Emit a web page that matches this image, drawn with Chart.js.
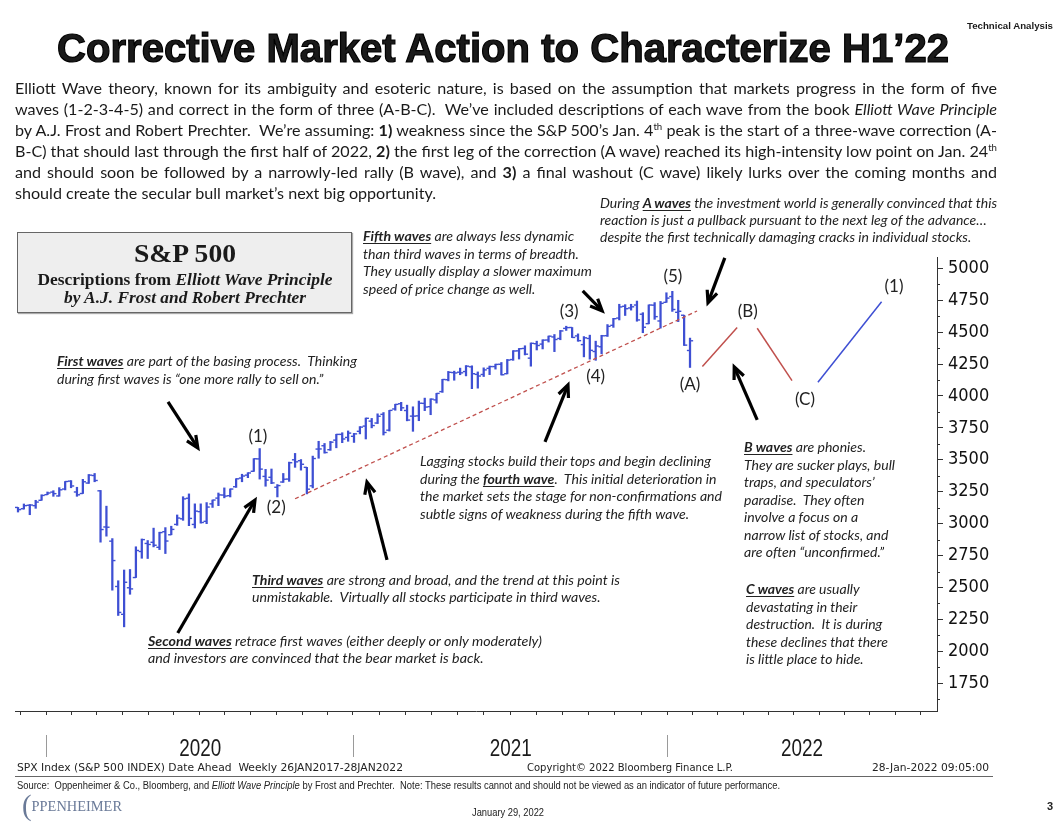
<!DOCTYPE html>
<html lang="en">
<head>
<meta charset="UTF-8">
<title>Corrective Market Action to Characterize H1’22</title>
<script src="https://cdn.jsdelivr.net/npm/chart.js@4.4.1/dist/chart.umd.min.js"></script>
<style>
  html, body { margin: 0; padding: 0; background: #fff; }
  body { width: 1059px; height: 840px; position: relative; overflow: hidden; color: #1a1a1a; font-family: Lato, "Open Sans", sans-serif; }
  #chart { position: absolute; left: 0; top: 0; }
  .abs { position: absolute; white-space: nowrap; transform-origin: 0 0; }
  .ln { white-space: nowrap; width: max-content; }
  .note { font: italic 13.5px/17.5px Lato, sans-serif; color: #222; }
  .note u { text-underline-offset: 2px; }
  .intro { font: 16px/20.9px Lato, sans-serif; color: #1a1a1a; }
  .intro sup { font-size: 0.6em; line-height: 0; vertical-align: 0.65em; }
  .foot { font: 11px/13px "DejaVu Sans Condensed", "DejaVu Sans", sans-serif; color: #222; }
  #spbox { position: absolute; left: 17px; top: 232px; width: 333px; height: 79px; background: #eeeeee; border: 1px solid #666; box-shadow: 1px 1px 1px #aaa; }
  #spbox .abs { left: 50%; transform-origin: 50% 0; font-family: "Liberation Serif", "DejaVu Serif", serif; font-weight: bold; color: #1a1a1a; }
</style>
</head>
<body>
<canvas id="chart" width="1059" height="840"></canvas>

<div class="abs" data-w="86" style="left:967px; top:22px; font: bold 9px/9px 'Liberation Sans', Arial, sans-serif;">Technical Analysis</div>
<div class="abs" data-w="892" style="left:57px; top:28px; font: bold 40px/40px 'Liberation Sans', Arial, sans-serif; -webkit-text-stroke: 1.2px #000;">Corrective Market Action to Characterize H1’22</div>

<div class="abs intro" data-w="982" data-justify="1" style="left:15px; top:78px;">
  <div class="ln">Elliott Wave theory, known for its ambiguity and esoteric nature, is based on the assumption that markets progress in the form of five</div>
  <div class="ln">waves (1-2-3-4-5) and correct in the form of three (A-B-C).&nbsp; We’ve included descriptions of each wave from the book <i>Elliott Wave Principle</i></div>
  <div class="ln">by A.J. Frost and Robert Prechter.&nbsp; We’re assuming: <b>1)</b> weakness since the S&amp;P 500’s Jan. 4<sup>th</sup> peak is the start of a three-wave correction (A-</div>
  <div class="ln">B-C) that should last through the first half of 2022, <b>2)</b> the first leg of the correction (A wave) reached its high-intensity low point on Jan. 24<sup>th</sup></div>
  <div class="ln">and should soon be followed by a narrowly-led rally (B wave), and <b>3)</b> a final washout (C wave) likely lurks over the coming months and</div>
  <div class="ln">should create the secular bull market’s next big opportunity.</div>
</div>

<div id="spbox">
  <div class="abs" data-w="102" data-center="1" style="top:8px; font-size:26px; line-height:26px;">S&amp;P 500</div>
  <div class="abs" data-w="295" data-center="1" style="top:39px; font-size:16px; line-height:16px;">Descriptions from <i>Elliott Wave Principle</i></div>
  <div class="abs" data-w="242" data-center="1" style="top:57px; font-size:16px; line-height:16px; font-style:italic;">by A.J. Frost and Robert Prechter</div>
</div>

<div class="abs note" data-w="397" style="left:600px; top:195px; line-height:16.8px;">
  <div class="ln">During <b><u>A waves</u></b> the investment world is generally convinced that this</div>
  <div class="ln">reaction is just a pullback pursuant to the next leg of the advance…</div>
  <div class="ln">despite the first technically damaging cracks in individual stocks.</div>
</div>
<div class="abs note" data-w="229" style="left:363px; top:228px;">
  <div class="ln"><b><u>Fifth waves</u></b> are always less dynamic</div>
  <div class="ln">than third waves in terms of breadth.</div>
  <div class="ln">They usually display a slower maximum</div>
  <div class="ln">speed of price change as well.</div>
</div>
<div class="abs note" data-w="300" style="left:57px; top:353px;">
  <div class="ln"><b><u>First waves</u></b> are part of the basing process.&nbsp; Thinking</div>
  <div class="ln">during first waves is “one more rally to sell on.”</div>
</div>
<div class="abs note" data-w="302" style="left:420px; top:453px;">
  <div class="ln">Lagging stocks build their tops and begin declining</div>
  <div class="ln">during the <b><u>fourth wave</u></b>.&nbsp; This initial deterioration in</div>
  <div class="ln">the market sets the stage for non-confirmations and</div>
  <div class="ln">subtle signs of weakness during the fifth wave.</div>
</div>
<div class="abs note" data-w="151" style="left:744px; top:439px;">
  <div class="ln"><b><u>B waves</u></b> are phonies.</div>
  <div class="ln">They are sucker plays, bull</div>
  <div class="ln">traps, and speculators’</div>
  <div class="ln">paradise.&nbsp; They often</div>
  <div class="ln">involve a focus on a</div>
  <div class="ln">narrow list of stocks, and</div>
  <div class="ln">are often “unconfirmed.”</div>
</div>
<div class="abs note" data-w="142" style="left:746px; top:581px;">
  <div class="ln"><b><u>C waves</u></b> are usually</div>
  <div class="ln">devastating in their</div>
  <div class="ln">destruction.&nbsp; It is during</div>
  <div class="ln">these declines that there</div>
  <div class="ln">is little place to hide.</div>
</div>
<div class="abs note" data-w="368" style="left:252px; top:572px; line-height:16.8px;">
  <div class="ln"><b><u>Third waves</u></b> are strong and broad, and the trend at this point is</div>
  <div class="ln">unmistakable.&nbsp; Virtually all stocks participate in third waves.</div>
</div>
<div class="abs note" data-w="394" style="left:148px; top:633px; line-height:16.8px;">
  <div class="ln"><b><u>Second waves</u></b> retrace first waves (either deeply or only moderately)</div>
  <div class="ln">and investors are convinced that the bear market is back.</div>
</div>

<div class="abs foot" data-w="386" style="left:17px; top:761px;">SPX Index (S&amp;P 500 INDEX) Date Ahead&nbsp; Weekly 26JAN2017-28JAN2022</div>
<div class="abs foot" data-w="206" style="left:527px; top:761px;">Copyright© 2022 Bloomberg Finance L.P.</div>
<div class="abs foot" data-w="117" style="left:872px; top:761px;">28-Jan-2022 09:05:00</div>
<div class="abs" style="left:15px; top:776px; width:978px; border-top:1.5px solid #666;"></div>
<div class="abs" data-w="763" style="left:17px; top:780px; font: 10px/12px 'Liberation Sans Narrow', 'Liberation Sans', Arial, sans-serif; color:#222;">Source:&nbsp; Oppenheimer &amp; Co., Bloomberg, and <i>Elliott Wave Principle</i> by Frost and Prechter.&nbsp; Note: These results cannot and should not be viewed as an indicator of future performance.</div>
<div class="abs" data-w="100" style="left:22px; top:793px; font: 15px/24px 'Liberation Serif', serif; color:#6a7a98;"><span style="font-size:30px; font-weight:300; vertical-align:-4px;">(</span>PPENHEIMER</div>
<div class="abs" data-w="72" style="left:472px; top:807px; font: 10px/12px 'Liberation Sans Narrow', 'Liberation Sans', Arial, sans-serif; color:#222;">January 29, 2022</div>
<div class="abs" style="left:1047px; top:800px; font: bold 11px/12px 'Liberation Sans', Arial, sans-serif; color:#222;">3</div>

<script>
// Weekly S&P 500 bars, week ending 22 Nov 2019 (index 0) to 28 Jan 2022 (index 114)
var opens = [3127,3117,3144,3141,3183,3227,
  3247,3217,3271,3333,3248, 3236,3318,3377,3257, 2974,2863,2508,2290, 2498,2578,2782,2845,
  2854,2815,2937,2913,2994, 3038,3199,2994,3094, 3018,3155,3200,3224,3219, 3289,3357,3380,3410,
  3507,3370,3363,3285, 3326,3349,3500,3493,3441, 3296,3584,3610,3579, 3654,3699,3675,3684,3723,
  3764,3803,3788,3856, 3732,3898,3939,3886, 3842,3844,3942,3916, 3969,4034,4127,4183,4186,
  4191,4228,4169,4168, 4216,4230,4248,4174, 4285,4353,4372,4296,4409, 4406,4438,4462,4450,
  4529,4536,4470,4402, 4450,4348,4385,4472,4553, 4610,4702,4689,4712, 4640,4566,4711,4587,4733,
  4778,4655,4632,4356];
var highs = [3127,3154,3150,3183,3226,3248,
  3258,3282,3330,3337,3285, 3347,3385,3393,3260, 3137,2883,2553,2637, 2641,2819,2880,2868,
  2965,2933,2969,2980,3068, 3211,3233,3155,3155, 3165,3185,3240,3280,3272, 3352,3387,3399,3509,
  3588,3425,3428,3306, 3393,3482,3550,3502,3441, 3529,3645,3628,3644, 3700,3712,3726,3707,3760,
  3827,3824,3860,3870, 3887,3935,3950,3928, 3915,3960,3983,3978, 4020,4130,4192,4194,4218,
  4238,4236,4188,4220, 4234,4249,4262,4286, 4355,4372,4393,4415,4429, 4440,4469,4481,4513,
  4546,4536,4486,4465, 4476,4429,4475,4559,4608, 4718,4715,4718,4743, 4652,4713,4731,4740,4808,
  4819,4749,4632,4453];
var lows = [3091,3114,3070,3120,3183,3227,
  3214,3215,3264,3281,3214, 3236,3315,3328,2855, 2902,2479,2281,2192, 2447,2578,2729,2727,
  2818,2797,2766,2913,2987, 3026,2984,2966,3004, 3000,3127,3141,3202,3209, 3284,3328,3360,3409,
  3349,3293,3313,3209, 3323,3331,3441,3419,3233, 3280,3512,3552,3574, 3594,3634,3645,3636,3703,
  3663,3750,3784,3694, 3725,3888,3885,3805, 3723,3806,3885,3853, 3944,4028,4118,4123,4166,
  4157,4057,4061,4152, 4167,4210,4164,4173, 4279,4289,4321,4233,4360, 4368,4422,4347,4440,
  4513,4457,4428,4306, 4288,4279,4330,4466,4537, 4595,4630,4672,4585, 4495,4565,4600,4531,4733,
  4662,4582,4395,4223];
var closes = [3110,3141,3146,3169,3221,3240,
  3235,3265,3330,3295,3226, 3328,3380,3338,2954, 2972,2711,2305,2541, 2489,2790,2875,2837,
  2831,2930,2864,2955,3044, 3194,3041,3098,3009, 3130,3185,3225,3216,3271, 3351,3373,3397,3508,
  3427,3341,3319,3298, 3348,3477,3484,3465,3270, 3510,3585,3557,3638, 3699,3663,3709,3703,3756,
  3825,3768,3841,3714, 3887,3934,3907,3811, 3842,3943,3913,3975, 4020,4129,4185,4180,4181,
  4233,4174,4156,4204, 4230,4247,4166,4281, 4352,4370,4327,4412,4395, 4437,4468,4442,4509,
  4535,4458,4433,4455, 4357,4391,4471,4545,4605, 4697,4683,4698,4595, 4538,4712,4621,4725,4766,
  4677,4663,4398,4432];

// rising support line from the (2) low through the (4) low
var trendX = [47, 115.2];
var trendY = [3195, 4665];

// projected path: A -> B, B -> C (red) and C -> new (1) (blue)
var legABx = [116.1, 122.0], legABy = [4230, 4535];
var legBCx = [125.4, 131.3], legBCy = [4530, 4120];
var leg1x  = [135.7, 146.5], leg1y  = [4107, 4738];

// wave counts
var waveLabels = ['(1)', '(2)', '(3)', '(4)', '(5)', '(A)', '(B)', '(C)', '(1)'];
var waveX = [40.7, 43.8, 93.5, 98.0, 111.1, 114.0, 123.8, 133.5, 148.6];
var waveY = [3679, 3123, 4658, 4149, 4932, 4086, 4658, 3969, 4854];

// annotation arrows [tail week, tail level, head week, head level]
var arrows = [
  [25.45, 3953, 30.5, 3593],
  [27.1, 2144, 40.2, 3185],
  [62.6, 2716, 59.2, 3326],
  [95.8, 4822, 99.1, 4666],
  [89.4, 3640, 93.3, 4086],
  [119.9, 5081, 117.05, 4730],
  [125.4, 3812, 121.5, 4227]
];

// axes
var yTicks = [1625, 1750, 1875, 2000, 2125, 2250, 2375, 2500, 2625, 2750, 2875, 3000, 3125, 3250,
  3375, 3500, 3625, 3750, 3875, 4000, 4125, 4250, 4375, 4500, 4625, 4750, 4875, 5000];
var monthTicks = [0.4, 4.75, 9.1, 13.4, 17.8, 22.1, 26.4, 30.8, 35.1, 39.5, 43.8, 48.2, 52.5,
  56.8, 61.3, 65.7, 70.1, 74.6, 79.0, 83.5, 87.9, 92.3, 96.8, 101.2, 105.7,
  110.1, 114.4, 118.7, 123.0, 127.3, 131.6, 135.9, 140.2, 144.5, 148.8, 153.1];
var years = ['2020', '2021', '2022'];
var yearBreaks = [4.75, 56.8, 110.1];
var yearCenters = [30.9, 83.6, 133.0];

var BLUE = '#3e4fd3';
var RED = '#c0504d';

function isMajor(v) { return v % 250 === 0; }

function fitText() {
  document.querySelectorAll('[data-w]').forEach(function (el) {
    var lines = el.querySelectorAll('.ln');
    var items = lines.length ? Array.from(lines) : [el];
    var nat = Math.max.apply(null, items.map(function (e) { return e.getBoundingClientRect().width; }));
    var w = +el.dataset.w;
    var s = w / nat;
    if (el.dataset.center) {
      el.style.transform = 'translateX(-50%) scaleX(' + s + ')';
    } else {
      el.style.transform = 'scaleX(' + s + ')';
    }
    if (el.dataset.justify) {
      items.slice(0, -1).forEach(function (e) {
        e.style.width = (w / s) + 'px';
        e.style.whiteSpace = 'normal';
        e.style.textAlign = 'justify';
        e.style.textAlignLast = 'justify';
      });
    }
  });
}
fitText();

function drawArrow(ctx, x0, y0, x1, y1) {
  var a = Math.atan2(y1 - y0, x1 - x0), L = 13, w = 0.42;
  ctx.beginPath();
  ctx.moveTo(x0, y0);
  ctx.lineTo(x1 - 2 * Math.cos(a), y1 - 2 * Math.sin(a));
  ctx.stroke();
  ctx.beginPath();
  ctx.moveTo(x1 - L * Math.cos(a - w), y1 - L * Math.sin(a - w));
  ctx.lineTo(x1, y1);
  ctx.lineTo(x1 - L * Math.cos(a + w), y1 - L * Math.sin(a + w));
  ctx.stroke();
}

var overlay = {
  id: 'overlay',
  afterDraw: function (chart) {
    var ctx = chart.ctx, xs = chart.scales.x, ys = chart.scales.y;
    var area = chart.chartArea, bottom = area.bottom;
    ctx.save();
    // short minor ticks on the price axis
    ctx.strokeStyle = '#333';
    ctx.lineWidth = 1;
    yTicks.forEach(function (v) {
      if (isMajor(v)) return;
      var py = Math.round(ys.getPixelForValue(v)) + 0.5;
      ctx.beginPath();
      ctx.moveTo(area.right, py);
      ctx.lineTo(area.right + 3, py);
      ctx.stroke();
    });
    // arrows
    ctx.strokeStyle = '#000';
    ctx.lineWidth = 3.2;
    ctx.lineJoin = 'miter';
    arrows.forEach(function (a) {
      drawArrow(ctx, xs.getPixelForValue(a[0]), ys.getPixelForValue(a[1]),
        xs.getPixelForValue(a[2]), ys.getPixelForValue(a[3]));
    });
    // wave labels
    ctx.fillStyle = '#222';
    ctx.font = '17px Lato, sans-serif';
    ctx.textAlign = 'center';
    ctx.textBaseline = 'middle';
    waveLabels.forEach(function (t, i) {
      ctx.fillText(t, xs.getPixelForValue(waveX[i]), ys.getPixelForValue(waveY[i]));
    });
    // year separators and labels
    ctx.strokeStyle = '#9a9a9a';
    ctx.lineWidth = 1;
    yearBreaks.forEach(function (v) {
      var px = Math.round(xs.getPixelForValue(v)) + 0.5;
      ctx.beginPath();
      ctx.moveTo(px, bottom + 24);
      ctx.lineTo(px, bottom + 46);
      ctx.stroke();
    });
    ctx.fillStyle = '#1a1a1a';
    ctx.font = '23px "Liberation Sans", Arial, sans-serif';
    ctx.textBaseline = 'alphabetic';
    years.forEach(function (t, i) {
      ctx.save();
      ctx.translate(xs.getPixelForValue(yearCenters[i]), bottom + 45);
      ctx.scale(0.82, 1);
      ctx.fillText(t, 0, 0);
      ctx.restore();
    });
    ctx.restore();
  }
};

var ctx = document.getElementById('chart').getContext('2d');
var chart = new Chart(ctx, {
  type: 'bar',
  data: {
    datasets: [
      {
        type: 'bar',
        data: highs.map(function (h, i) { return { x: i, y: [lows[i], h] }; }),
        backgroundColor: BLUE,
        borderWidth: 0,
        barThickness: 1.6,
        grouped: false,
        order: 3
      },
      {
        type: 'scatter',
        data: opens.map(function (o, i) { return { x: i - 0.26, y: o }; }),
        showLine: false,
        pointStyle: 'line',
        pointRadius: 1.6,
        pointBorderColor: BLUE,
        pointBorderWidth: 1.4,
        order: 2
      },
      {
        type: 'scatter',
        data: closes.map(function (c, i) { return { x: i + 0.26, y: c }; }),
        showLine: false,
        pointStyle: 'line',
        pointRadius: 1.6,
        pointBorderColor: BLUE,
        pointBorderWidth: 1.4,
        order: 2
      },
      {
        type: 'line',
        data: trendX.map(function (x, i) { return { x: x, y: trendY[i] }; }),
        borderColor: RED,
        borderWidth: 1.3,
        borderDash: [4, 3],
        pointRadius: 0,
        order: 1
      },
      {
        type: 'line',
        data: legABx.map(function (x, i) { return { x: x, y: legABy[i] }; }),
        borderColor: RED, borderWidth: 1.5, pointRadius: 0, order: 1
      },
      {
        type: 'line',
        data: legBCx.map(function (x, i) { return { x: x, y: legBCy[i] }; }),
        borderColor: RED, borderWidth: 1.5, pointRadius: 0, order: 1
      },
      {
        type: 'line',
        data: leg1x.map(function (x, i) { return { x: x, y: leg1y[i] }; }),
        borderColor: BLUE, borderWidth: 1.5, pointRadius: 0, order: 1
      }
    ]
  },
  options: {
    responsive: false,
    animation: false,
    events: [],
    layout: { padding: { left: 15, top: 257, right: 0, bottom: 0 } },
    plugins: { legend: { display: false }, tooltip: { enabled: false } },
    scales: {
      x: {
        type: 'linear',
        min: -0.51,
        max: 155.9,
        offset: false,
        grid: { display: true, offset: false, drawOnChartArea: false, drawTicks: true, tickLength: 4, color: '#333' },
        border: { display: true, color: '#333', width: 1 },
        ticks: { display: false },
        afterBuildTicks: function (scale) {
          scale.ticks = monthTicks.map(function (v) { return { value: v }; });
        },
        afterFit: function (scale) { scale.height = 129; }
      },
      y: {
        type: 'linear',
        position: 'right',
        min: 1533,
        max: 5088,
        grid: {
          display: true, drawOnChartArea: false, drawTicks: true, tickLength: 6, color: '#333',
          tickColor: function (c) { return c.tick && isMajor(c.tick.value) ? '#333' : 'rgba(0,0,0,0)'; }
        },
        border: { display: true, color: '#333', width: 1 },
        ticks: {
          autoSkip: false,
          padding: 5,
          color: '#111',
          font: { family: '"DejaVu Sans Condensed", "Liberation Sans", sans-serif', size: 18 },
          callback: function (v) { return isMajor(v) ? String(v) : ''; }
        },
        afterBuildTicks: function (scale) {
          scale.ticks = yTicks.map(function (v) { return { value: v }; });
        },
        afterFit: function (scale) {
          scale.width = 122;
          scale.paddingTop = 0;
          scale.paddingBottom = 0;
        }
      }
    }
  },
  plugins: [overlay]
});
</script>
</body>
</html>
